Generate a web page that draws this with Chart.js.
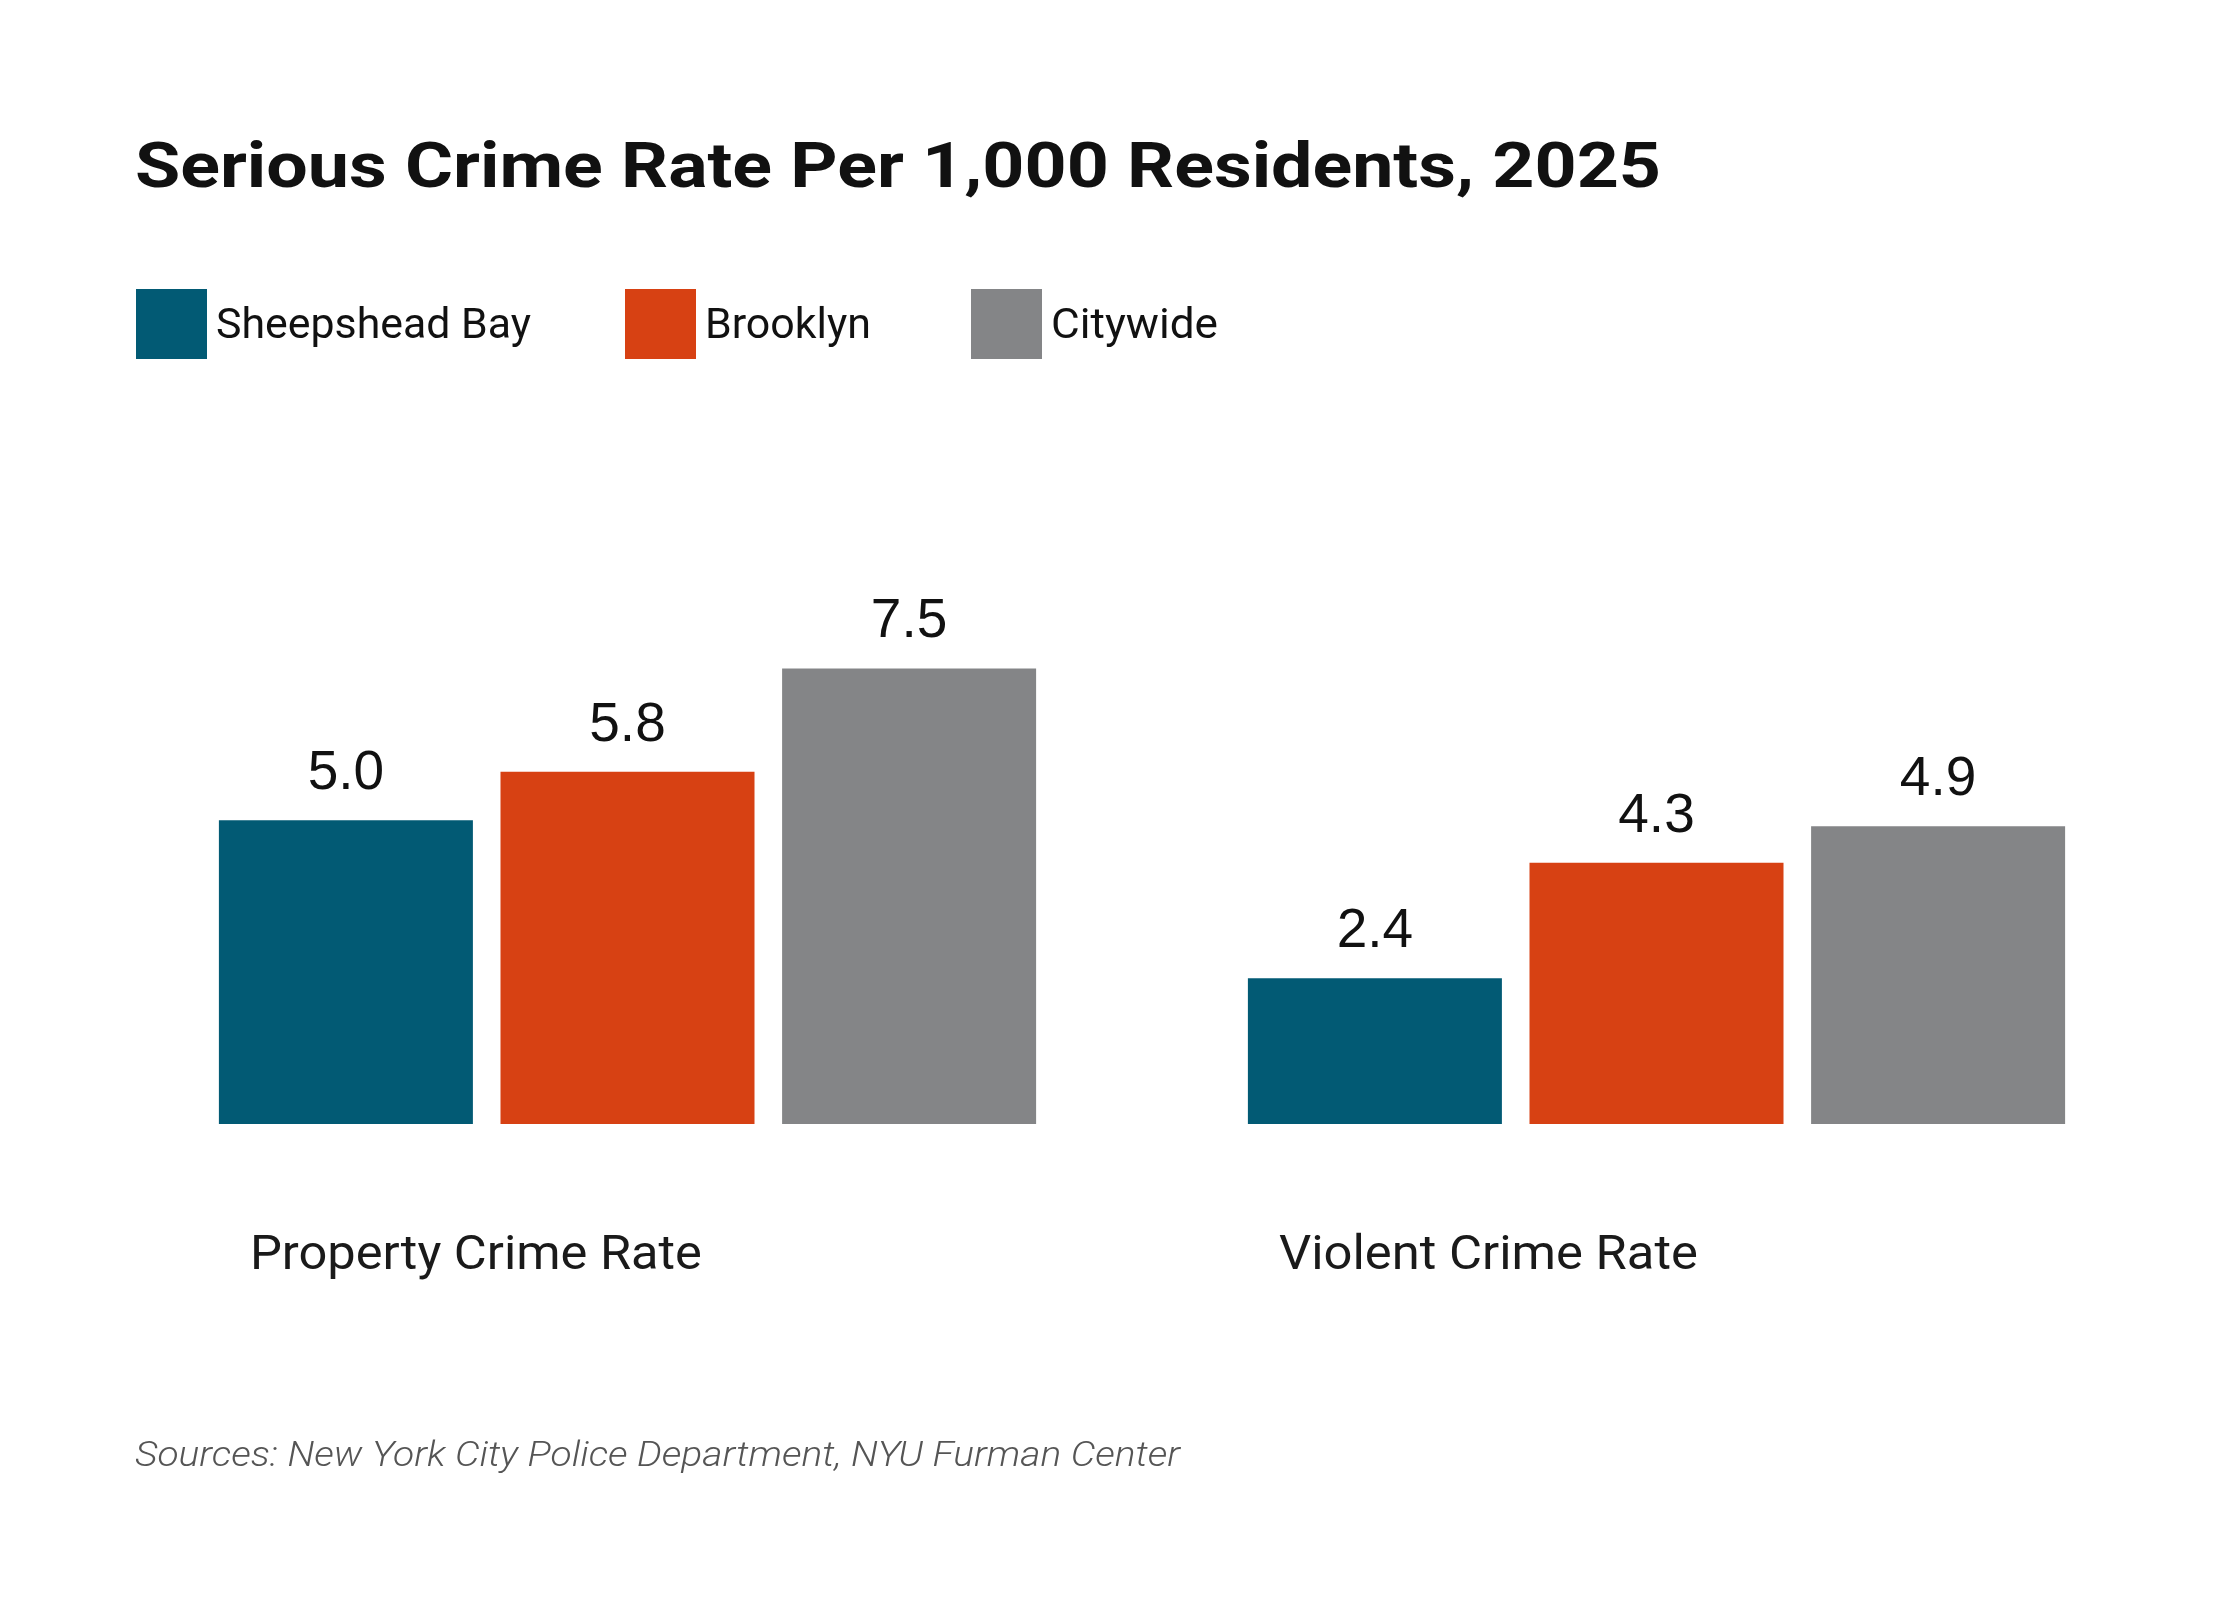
<!DOCTYPE html>
<html><head><meta charset="utf-8">
<script src="https://cdn.jsdelivr.net/npm/chart.js@4"></script>
<style>html,body{margin:0;padding:0;background:#fff}canvas{display:block}</style>
</head><body>
<canvas id="c" width="2240" height="1600"></canvas>
<script>
const categories = ['Property Crime Rate', 'Violent Crime Rate'];
const seriesNames = ['Sheepshead Bay', 'Brooklyn', 'Citywide'];
const sheepsheadBay = [5.0, 2.4];
const brooklyn = [5.8, 4.3];
const citywide = [7.5, 4.9];
const seriesColors = ['#025a74', '#d74113', '#848587'];
const titleText = 'Serious Crime Rate Per 1,000 Residents, 2025';
const sourceText = 'Sources: New York City Police Department, NYU Furman Center';

function fillFit(ctx, text, x, y, targetW) {
  const w = ctx.measureText(text).width;
  ctx.save();
  ctx.translate(x, y);
  if (targetW) ctx.scale(targetW / w, 1);
  ctx.fillText(text, 0, 0);
  ctx.restore();
}

const decor = {
  id: 'decor',
  afterDatasetsDraw(chart) {
    const ctx = chart.ctx;
    const area = chart.chartArea;
    ctx.save();
    ctx.textAlign = 'left';
    ctx.textBaseline = 'alphabetic';
    // title
    ctx.fillStyle = '#111';
    ctx.font = 'bold 63px Roboto, "Open Sans", sans-serif';
    fillFit(ctx, titleText, 135, 187, 1526);
    // legend
    const legendX = [136, 625, 971];
    const legendW = [315, 166, 167];
    ctx.font = '43px Roboto, "Open Sans", sans-serif';
    chart.data.datasets.forEach((ds, i) => {
      ctx.fillStyle = ds.backgroundColor;
      ctx.fillRect(legendX[i], 289, 71, 70);
      ctx.fillStyle = '#111';
      fillFit(ctx, ds.label, legendX[i] + 80, 338, legendW[i]);
    });
    // value labels
    ctx.font = '55px "Liberation Sans", Arial, sans-serif';
    ctx.textAlign = 'center';
    ctx.fillStyle = '#111';
    chart.data.datasets.forEach((ds, i) => {
      const meta = chart.getDatasetMeta(i);
      meta.data.forEach((bar, j) => {
        ctx.fillText(ds.data[j].toFixed(1), bar.x, bar.y - 31);
      });
    });
    // category labels
    ctx.textAlign = 'left';
    ctx.fillStyle = '#1a1a1a';
    ctx.font = '49px Roboto, "Open Sans", sans-serif';
    const catW = [452, 419];
    const meta0 = chart.getDatasetMeta(0);
    chart.data.labels.forEach((lab, j) => {
      const bar = meta0.data[j];
      fillFit(ctx, lab, bar.x - bar.width / 2 + 31, area.bottom + 145, catW[j]);
    });
    // source
    ctx.fillStyle = '#555';
    ctx.font = 'italic 300 35px Roboto, "Open Sans", sans-serif';
    fillFit(ctx, sourceText, 135, 1466, 1045);
    ctx.restore();
  }
};

new Chart(document.getElementById('c'), {
  type: 'bar',
  data: {
    labels: categories,
    datasets: [
      { label: seriesNames[0], data: sheepsheadBay, backgroundColor: seriesColors[0] },
      { label: seriesNames[1], data: brooklyn, backgroundColor: seriesColors[1] },
      { label: seriesNames[2], data: citywide, backgroundColor: seriesColors[2] }
    ]
  },
  options: {
    responsive: false,
    animation: false,
    devicePixelRatio: 1,
    layout: { padding: { top: 638, bottom: 476, left: 113, right: 69 } },
    datasets: { bar: { categoryPercentage: 0.821, barPercentage: 0.902, borderWidth: 0 } },
    scales: {
      x: { display: false, grid: { display: false } },
      y: { display: false, min: 0, max: 8, grid: { display: false } }
    },
    plugins: { legend: { display: false }, title: { display: false }, tooltip: { enabled: false } }
  },
  plugins: [decor]
});
</script>
</body></html>
